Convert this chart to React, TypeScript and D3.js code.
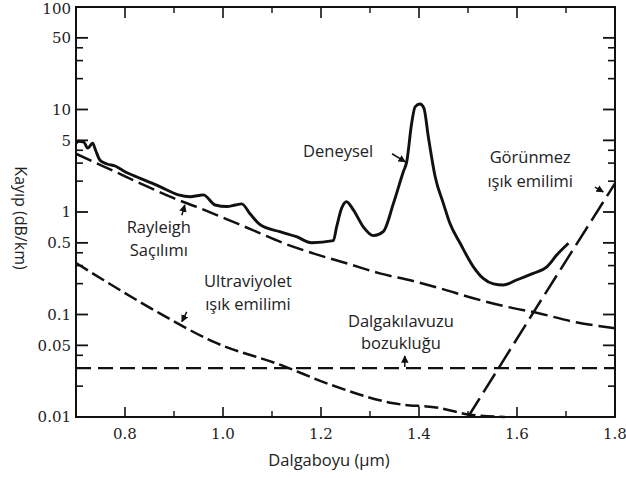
import React from "react";
import * as d3 from "d3";

const W = 626;
const H = 478;

// Data (wavelength µm, loss dB/km)
const experimental: [number, number][] = [
  [0.700, 4.7], [0.706, 4.9], [0.716, 4.8], [0.724, 4.2], [0.734, 4.7], [0.740, 4.0],
  [0.749, 3.2], [0.763, 2.94], [0.780, 2.81], [0.800, 2.47], [0.831, 2.13], [0.871, 1.77],
  [0.909, 1.47], [0.933, 1.41], [0.950, 1.45], [0.960, 1.47], [0.984, 1.17], [1.008, 1.13],
  [1.025, 1.17], [1.038, 1.20], [1.056, 0.95], [1.076, 0.75], [1.116, 0.643], [1.150, 0.574],
  [1.181, 0.501], [1.225, 0.525], [1.232, 0.719], [1.242, 1.086], [1.252, 1.26], [1.266, 1.05],
  [1.286, 0.72], [1.307, 0.588], [1.327, 0.643], [1.348, 1.22], [1.368, 2.47], [1.375, 3.10],
  [1.385, 7.33], [1.392, 10.6], [1.402, 11.3], [1.410, 10.3], [1.419, 5.43], [1.433, 2.21],
  [1.450, 1.2], [1.463, 0.776], [1.484, 0.495], [1.511, 0.292], [1.531, 0.225], [1.552, 0.199],
  [1.572, 0.194], [1.599, 0.217], [1.633, 0.252], [1.661, 0.292], [1.681, 0.38], [1.705, 0.495],
];

const rayleigh: [number, number][] = [
  [0.700, 3.7], [0.735, 3.10], [0.780, 2.47], [0.831, 1.905], [0.892, 1.41], [0.953, 1.09],
  [1.021, 0.80], [1.076, 0.62], [1.116, 0.513], [1.184, 0.395], [1.252, 0.316], [1.320, 0.252],
  [1.388, 0.212], [1.443, 0.18], [1.511, 0.144], [1.579, 0.119], [1.640, 0.104], [1.715, 0.0851],
  [1.800, 0.0733],
];

const ultraviolet: [number, number][] = [
  [0.700, 0.318], [0.756, 0.217], [0.871, 0.1026], [0.980, 0.0543], [1.123, 0.0315],
  [1.212, 0.0213], [1.348, 0.0136], [1.443, 0.0122], [1.500, 0.0106], [1.575, 0.0100],
];

const waveguide: [number, number][] = [
  [0.7, 0.03], [1.8, 0.03],
];

const infrared: [number, number][] = [
  [1.50, 0.01], [1.65, 0.14], [1.80, 1.9],
];

const yMajorTicks = [100, 50, 10, 5, 1, 0.5, 0.1, 0.05, 0.01];
const yMajorLabels = ["100", "50", "10", "5", "1", "0.5", "0.1", "0.05", "0.01"];
const yMinorTicks = [40, 30, 20, 4, 3, 2, 0.4, 0.3, 0.2, 0.04, 0.03, 0.02];
const xMajorTicks = [0.8, 1.0, 1.2, 1.4, 1.6, 1.8];
const xMajorLabels = ["0.8", "1.0", "1.2", "1.4", "1.6", "1.8"];
const xMinorTicks = [0.9, 1.1, 1.3, 1.5, 1.7];

// Annotations (data coords)
const labels: { text: string; x: number; y: number }[] = [
  { text: "Deneysel", x: 1.235, y: 3.44 },
  { text: "Rayleigh", x: 0.869, y: 0.624 },
  { text: "Saçılımı", x: 0.869, y: 0.372 },
  { text: "Ultraviyolet", x: 1.051, y: 0.185 },
  { text: "ışık emilimi", x: 1.051, y: 0.111 },
  { text: "Dalgakılavuzu", x: 1.363, y: 0.0755 },
  { text: "bozukluğu", x: 1.363, y: 0.046 },
  { text: "Görünmez", x: 1.627, y: 3.0 },
  { text: "ışık emilimi", x: 1.627, y: 1.75 },
];

const pointers: { from: [number, number]; to: [number, number] }[] = [
  { from: [1.345, 3.7], to: [1.372, 3.08] },
  { from: [0.916, 0.93], to: [0.922, 1.17] },
  { from: [0.926, 0.106], to: [0.916, 0.085] },
  { from: [1.371, 0.0307], to: [1.371, 0.0394] },
  { from: [1.759, 1.75], to: [1.776, 1.57] },
];

export default function App() {
  const L = 76, R = 615, T = 7, B = 417;
  const x = d3.scaleLinear().domain([0.7, 1.8]).range([L, R]);
  const y = d3.scaleLog().domain([0.01, 100]).range([B, T]);
  const line = d3
    .line<[number, number]>()
    .x((d) => x(d[0]))
    .y((d) => y(d[1]))
    .curve(d3.curveMonotoneX);
  const straight = d3
    .line<[number, number]>()
    .x((d) => x(d[0]))
    .y((d) => y(d[1]))
    .curve(d3.curveLinear);

  const ink = "#111";
  const tickFont = "'DejaVu Serif', serif";
  const sans = "'Open Sans', sans-serif";
  const annSize = 16.5;

  return (
    <svg
      width={W}
      height={H}
      viewBox={`0 0 ${W} ${H}`}
      style={{ position: "absolute", left: 0, top: 0, background: "#fff" }}
    >
      <defs>
        <marker id="ah" viewBox="0 0 10 10" refX="9" refY="5" markerWidth="5" markerHeight="5" orient="auto">
          <path d="M0,0 L10,5 L0,10 z" fill={ink} />
        </marker>
      </defs>
      <rect x={0} y={0} width={W} height={H} fill="#fff" />

      {/* curves */}
      <path d={line(rayleigh) || ""} fill="none" stroke={ink} strokeWidth={2.5} strokeDasharray="17,6" />
      <path d={line(ultraviolet) || ""} fill="none" stroke={ink} strokeWidth={2.5} strokeDasharray="14,5" />
      <path d={straight(waveguide) || ""} fill="none" stroke={ink} strokeWidth={2.4} strokeDasharray="15,7" />
      <path d={straight(infrared) || ""} fill="none" stroke={ink} strokeWidth={2.5} strokeDasharray="22,7" />
      <path d={line(experimental) || ""} fill="none" stroke={ink} strokeWidth={2.9} strokeLinejoin="round" />

      {/* frame */}
      <rect x={L} y={T} width={R - L} height={B - T} fill="none" stroke={ink} strokeWidth={2} />

      {/* y ticks */}
      {yMajorTicks.map((v, i) => (
        <g key={"ym" + i}>
          <line x1={L} x2={L + 12} y1={y(v)} y2={y(v)} stroke={ink} strokeWidth={1.8} />
          <line x1={R} x2={R - 12} y1={y(v)} y2={y(v)} stroke={ink} strokeWidth={1.8} />
          <text
            x={L - 5}
            y={Math.max(y(v), 9)}
            dy="0.36em"
            textAnchor="end"
            fontFamily={tickFont}
            fontSize={15}
            fill="#222"
          >
            {yMajorLabels[i]}
          </text>
        </g>
      ))}
      {yMinorTicks.map((v, i) => (
        <g key={"yn" + i}>
          <line x1={L} x2={L + 7} y1={y(v)} y2={y(v)} stroke={ink} strokeWidth={1.6} />
          <line x1={R} x2={R - 7} y1={y(v)} y2={y(v)} stroke={ink} strokeWidth={1.6} />
        </g>
      ))}

      {/* x ticks */}
      {xMajorTicks.map((v, i) => (
        <g key={"xm" + i}>
          <line x1={x(v)} x2={x(v)} y1={B} y2={B - 10} stroke={ink} strokeWidth={1.6} />
          <line x1={x(v)} x2={x(v)} y1={T} y2={T + 11} stroke={ink} strokeWidth={1.6} />
          <text x={x(v)} y={439} textAnchor="middle" fontFamily={tickFont} fontSize={15} fill="#222">
            {xMajorLabels[i]}
          </text>
        </g>
      ))}
      {xMinorTicks.map((v, i) => (
        <g key={"xn" + i}>
          <line x1={x(v)} x2={x(v)} y1={B} y2={B - 6} stroke={ink} strokeWidth={1.4} />
          <line x1={x(v)} x2={x(v)} y1={T} y2={T + 6} stroke={ink} strokeWidth={1.4} />
        </g>
      ))}

      {/* annotations */}
      {labels.map((l, i) => (
        <text key={"lb" + i} x={x(l.x)} y={y(l.y)} textAnchor="middle" fontFamily={sans} fontSize={annSize} fill="#222">
          {l.text}
        </text>
      ))}
      {pointers.map((p, i) => (
        <line
          key={"pt" + i}
          x1={x(p.from[0])}
          y1={y(p.from[1])}
          x2={x(p.to[0])}
          y2={y(p.to[1])}
          stroke={ink}
          strokeWidth={1.5}
          markerEnd="url(#ah)"
        />
      ))}

      {/* axis titles */}
      <text x={329} y={466} textAnchor="middle" fontFamily={sans} fontSize={16.5} fill="#222">
        Dalgaboyu (µm)
      </text>
      <text
        transform={`translate(15,218) rotate(90)`}
        textAnchor="middle"
        fontFamily={sans}
        fontSize={16}
        fill="#222"
      >
        Kayıp (dB/km)
      </text>
    </svg>
  );
}
